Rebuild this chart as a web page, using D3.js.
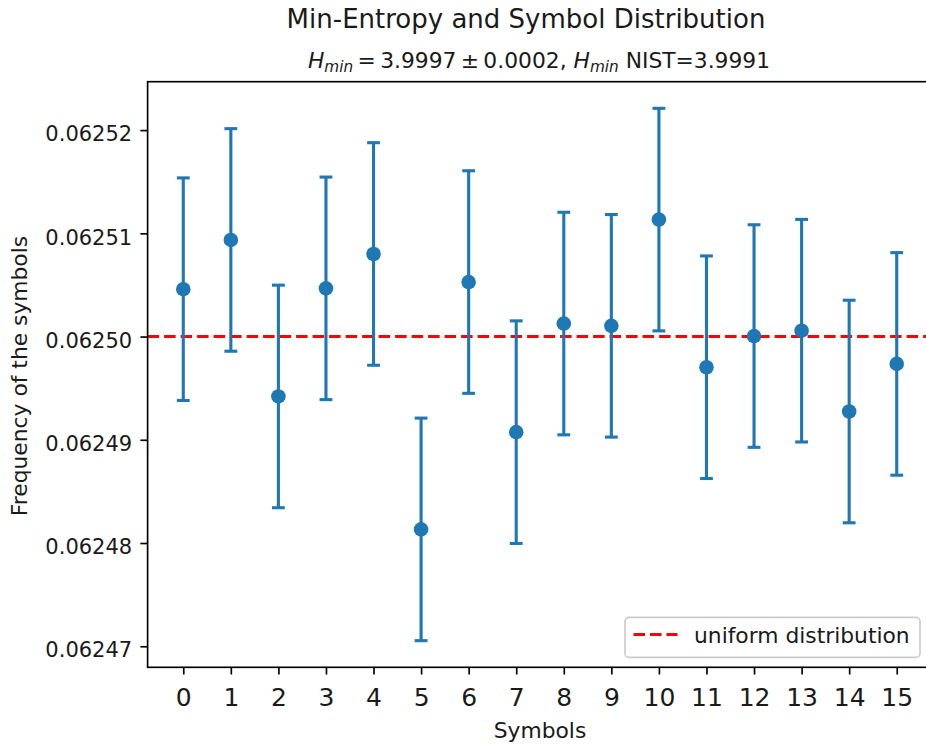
<!DOCTYPE html>
<html>
<head>
<meta charset="utf-8">
<script src="https://cdn.jsdelivr.net/npm/d3@7"></script>
<style>
  html, body { margin: 0; padding: 0; background: #fff; }
  svg { display: block; font-family: "DejaVu Sans", sans-serif; }
</style>
</head>
<body>
<svg id="chart" width="926" height="746"></svg>
<script>
// Symbol indices (x axis categories)
const symbols = [0, 1, 2, 3, 4, 5, 6, 7, 8, 9, 10, 11, 12, 13, 14, 15];
// Observed relative frequency of each symbol
const frequencies = [
  0.06250459, 0.06250936, 0.06249420, 0.06250467,
  0.06250800, 0.06248132, 0.06250528, 0.06249074,
  0.06250126, 0.06250104, 0.06251133, 0.06249703,
  0.06250005, 0.06250057, 0.06249274, 0.06249735
];
// One-sigma uncertainty of each frequency
const errors = [
  1.078e-5, 1.078e-5, 1.078e-5, 1.078e-5,
  1.078e-5, 1.078e-5, 1.078e-5, 1.078e-5,
  1.078e-5, 1.078e-5, 1.078e-5, 1.078e-5,
  1.078e-5, 1.078e-5, 1.078e-5, 1.078e-5
];
// Expected frequency for a uniform 16-symbol source
const uniformLevel = 1 / 16;
const yTickValues = [0.06247, 0.06248, 0.06249, 0.06250, 0.06251, 0.06252];

const title = "Min-Entropy and Symbol Distribution";
const xLabel = "Symbols";
const yLabel = "Frequency of the symbols";
const legendLabel = "uniform distribution";

const FONT = "DejaVu Sans";
const svg = d3.select("#chart");
const blue = "#1f77b4";
const textColor = "#1a1a1a";

const plot = { left: 147.6, right: 932.4, top: 81.7, bottom: 667.3 };

const x = d3.scaleLinear()
  .domain([-0.75, 15.75])
  .range([plot.left, plot.right]);

const lo = d3.min(frequencies, (f, i) => f - errors[i]);
const hi = d3.max(frequencies, (f, i) => f + errors[i]);
const pad = (hi - lo) * 0.05;
const y = d3.scaleLinear()
  .domain([lo - pad, hi + pad])
  .range([plot.bottom, plot.top]);

// Uniform reference line
svg.append("line")
  .attr("x1", plot.left).attr("x2", plot.right)
  .attr("y1", y(uniformLevel)).attr("y2", y(uniformLevel))
  .attr("stroke", "#ff0000")
  .attr("stroke-width", 3.1)
  .attr("stroke-dasharray", "11.5,5");

// Error bars
const bars = svg.append("g");
symbols.forEach((s, i) => {
  const cx = x(s);
  const y0 = y(frequencies[i] - errors[i]);
  const y1 = y(frequencies[i] + errors[i]);
  bars.append("line")
    .attr("x1", cx).attr("x2", cx).attr("y1", y0).attr("y2", y1)
    .attr("stroke", blue).attr("stroke-width", 3.1);
  [y0, y1].forEach(cy => {
    bars.append("line")
      .attr("x1", cx - 6.4).attr("x2", cx + 6.4)
      .attr("y1", cy).attr("y2", cy)
      .attr("stroke", blue).attr("stroke-width", 3.1);
  });
});

// Markers
svg.append("g").selectAll("circle")
  .data(symbols)
  .join("circle")
  .attr("cx", d => x(d))
  .attr("cy", (d, i) => y(frequencies[i]))
  .attr("r", 7.3)
  .attr("fill", blue);

// Axes
const xAxis = svg.append("g")
  .attr("transform", `translate(0,${plot.bottom})`)
  .call(d3.axisBottom(x).tickValues(symbols).tickFormat(d3.format("d"))
    .tickSize(7.2).tickPadding(7.2))
  .attr("font-family", FONT);
xAxis.select(".domain").remove();
xAxis.selectAll(".tick line").attr("stroke", "#000").attr("stroke-width", 1.66);
xAxis.selectAll(".tick text")
  .attr("font-size", 25)
  .attr("fill", textColor)
  .attr("y", null).attr("dy", null)
  .attr("transform", "translate(0,38.7)");

const yAxis = svg.append("g")
  .attr("transform", `translate(${plot.left},0)`)
  .call(d3.axisLeft(y).tickValues(yTickValues).tickFormat(d3.format(".5f"))
    .tickSize(7.2).tickPadding(7.2))
  .attr("font-family", FONT);
yAxis.select(".domain").remove();
yAxis.selectAll(".tick line").attr("stroke", "#000").attr("stroke-width", 1.66);
yAxis.selectAll(".tick text")
  .attr("font-size", 21)
  .attr("fill", textColor)
  .attr("dy", null)
  .attr("transform", "translate(-1,10.7)");

// Spines
svg.append("rect")
  .attr("x", plot.left).attr("y", plot.top)
  .attr("width", plot.right - plot.left).attr("height", plot.bottom - plot.top)
  .attr("fill", "none").attr("stroke", "#000").attr("stroke-width", 1.66);

// Titles
svg.append("text")
  .attr("x", 526).attr("y", 28.3)
  .attr("text-anchor", "middle")
  .attr("font-size", 26)
  .attr("fill", textColor)
  .text(title);

const sub = svg.append("text")
  .attr("x", 539).attr("y", 68.3)
  .attr("text-anchor", "middle")
  .attr("font-size", 21.8)
  .attr("fill", textColor);
function hmin(t) {
  t.append("tspan").attr("font-style", "italic").text("H");
  t.append("tspan").attr("font-style", "italic").attr("font-size", 15.3)
    .attr("dy", 4).text("min");
}
hmin(sub);
sub.append("tspan").attr("dy", -4).text("\u2009=\u20093.9997\u2009\u00b1\u20090.0002, ");
hmin(sub);
sub.append("tspan").attr("dy", -4).text(" NIST=3.9991");

svg.append("text")
  .attr("x", 540).attr("y", 738.3)
  .attr("text-anchor", "middle")
  .attr("font-size", 21.8)
  .attr("fill", textColor)
  .text(xLabel);

svg.append("text")
  .attr("transform", "translate(26.7,376) rotate(-90)")
  .attr("text-anchor", "middle")
  .attr("font-size", 21.8)
  .attr("fill", textColor)
  .text(yLabel);

// Legend
const legend = svg.append("g");
legend.append("rect")
  .attr("x", 625).attr("y", 617.3)
  .attr("width", 295).attr("height", 40)
  .attr("rx", 4).attr("ry", 4)
  .attr("fill", "rgba(255,255,255,0.8)")
  .attr("stroke", "#cccccc").attr("stroke-width", 1.66);
legend.append("line")
  .attr("x1", 633.5).attr("x2", 677.5)
  .attr("y1", 634.5).attr("y2", 634.5)
  .attr("stroke", "#ff0000").attr("stroke-width", 3.1)
  .attr("stroke-dasharray", "11.5,5");
legend.append("text")
  .attr("x", 694).attr("y", 643.3)
  .attr("font-size", 21.8)
  .attr("fill", textColor)
  .text(legendLabel);
</script>
</body>
</html>
